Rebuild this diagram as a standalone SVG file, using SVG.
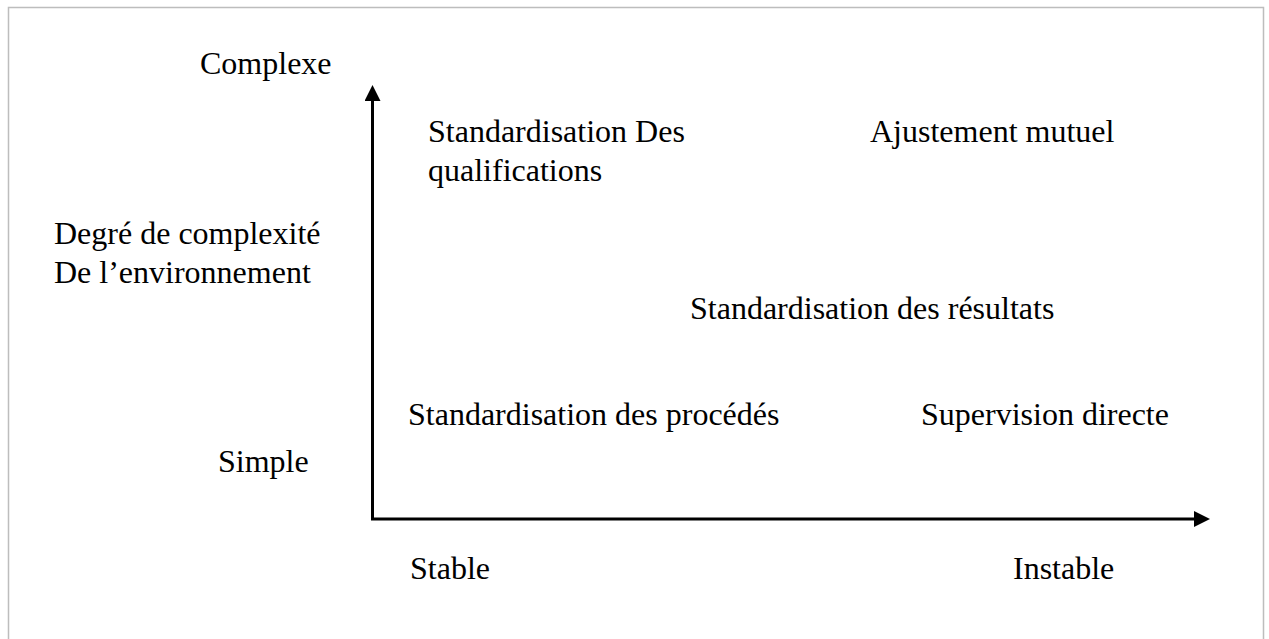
<svg xmlns="http://www.w3.org/2000/svg" width="1269" height="639" viewBox="0 0 1269 639">
  <style>
    .lbl { font-family: "Liberation Serif", "Times New Roman", serif; font-size: 32px; fill: #000; }
    .axis { stroke: #000; stroke-width: 3; fill: none; }
    .frame { stroke: #bdbdbd; stroke-width: 1.5; fill: none; }
  </style>
  <defs>
    <marker id="arrow" viewBox="0 0 16 16" refX="1" refY="8" markerWidth="16" markerHeight="16" markerUnits="userSpaceOnUse" orient="auto">
      <path d="M0,0 L16,8 L0,16 Z" fill="#000"/>
    </marker>
  </defs>
  <rect width="1269" height="639" fill="#fff"/>
  <path class="frame" d="M8.5,639 V7.5 H1263.5 V639"/>

  <g id="connectors">
    <path id="axis-y" class="axis" d="M372.5,519 V100" marker-end="url(#arrow)"/>
    <path id="axis-x" class="axis" d="M371,519 H1195" marker-end="url(#arrow)"/>
  </g>

  <g id="axis-labels">
    <text class="lbl" x="200" y="74">Complexe</text>
    <text class="lbl" x="54" y="244">Degré de complexité</text>
    <text class="lbl" x="54" y="283">De l’environnement</text>
    <text class="lbl" x="218" y="472">Simple</text>
    <text class="lbl" x="410" y="579">Stable</text>
    <text class="lbl" x="1013" y="579">Instable</text>
  </g>

  <g id="node-qualifications">
    <text class="lbl" x="428" y="142">Standardisation Des</text>
    <text class="lbl" x="428" y="181">qualifications</text>
  </g>
  <g id="node-ajustement">
    <text class="lbl" x="870" y="142">Ajustement mutuel</text>
  </g>
  <g id="node-resultats">
    <text class="lbl" x="690" y="319">Standardisation des résultats</text>
  </g>
  <g id="node-procedes">
    <text class="lbl" x="408" y="425">Standardisation des procédés</text>
  </g>
  <g id="node-supervision">
    <text class="lbl" x="921" y="425">Supervision directe</text>
  </g>
</svg>
